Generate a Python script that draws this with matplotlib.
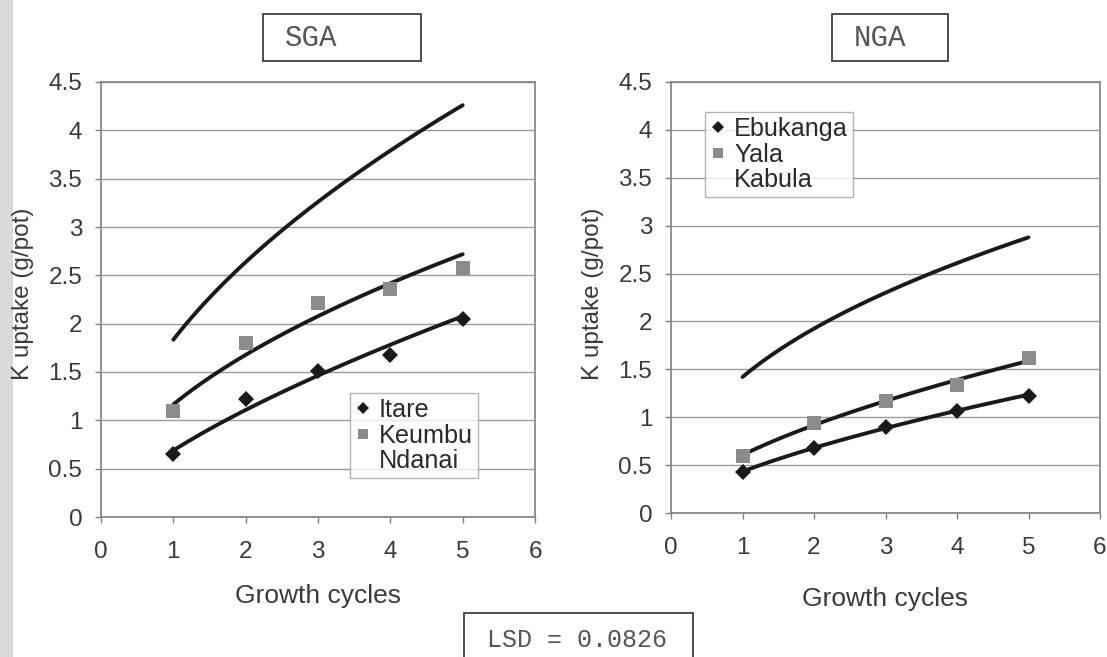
import numpy as np
import matplotlib
matplotlib.use("Agg")
import matplotlib.pyplot as plt
from matplotlib.patches import Rectangle

# ---- data ----
cycles = [1, 2, 3, 4, 5]
sga_names = ["Itare", "Keumbu", "Ndanai"]
sga_itare = [0.65, 1.22, 1.51, 1.68, 2.05]
sga_keumbu = [1.10, 1.80, 2.21, 2.36, 2.58]
sga_ndanai = [1.83, 2.65, 3.25, 3.80, 4.25]
nga_names = ["Ebukanga", "Yala", "Kabula"]
nga_ebukanga = [0.43, 0.68, 0.90, 1.07, 1.22]
nga_yala = [0.60, 0.94, 1.17, 1.34, 1.62]
nga_kabula = [1.41, 1.95, 2.30, 2.60, 2.87]
xticks = [0, 1, 2, 3, 4, 5, 6]
yticks = [0, 0.5, 1, 1.5, 2, 2.5, 3, 3.5, 4, 4.5]
ytick_labels = ["0", "0.5", "1", "1.5", "2", "2.5", "3", "3.5", "4", "4.5"]
lsd_text = "LSD = 0.0826"

W, H = 1107, 657
fig = plt.figure(figsize=(W / 100, H / 100), dpi=100)
fig.patch.set_facecolor("white")
plt.rcParams["font.family"] = ["Liberation Sans", "DejaVu Sans"]

# scan edge
fig.add_artist(Rectangle((0, 0), 13 / W, 1, transform=fig.transFigure,
                         facecolor="#d9d9d9", edgecolor="none", zorder=-5))


def power_fit(x, y):
    lx, ly = np.log(x), np.log(y)
    b, la = np.polyfit(lx, ly, 1)
    xs = np.linspace(min(x), max(x), 100)
    return xs, np.exp(la) * xs ** b


def make_axes(rect, series, names, leg_xy, ylab_xy, xlab_xy):
    ax = fig.add_axes(rect)
    ax.set_xlim(0, 6)
    ax.set_ylim(0, 4.5)
    ax.set_xticks(xticks)
    ax.set_yticks(yticks)
    ax.set_yticklabels(ytick_labels)
    ax.grid(axis="y", color="#9a9a9a", linewidth=1.0)
    ax.set_axisbelow(True)
    for s in ax.spines.values():
        s.set_color("#808080")
        s.set_linewidth(1.2)
    ax.tick_params(axis="both", colors="#808080", labelcolor="#3a3a3a",
                   labelsize=17.5, length=4.5, width=1.0)
    ax.tick_params(axis="x", pad=13)
    ax.tick_params(axis="y", pad=9)
    styles = [dict(marker="D", color="#1a1a1a", ms=8.5),
              dict(marker="s", color="#8c8c8c", ms=9.5),
              dict(marker="none", color="white", ms=0)]
    handles = []
    for ys, st, nm in zip(series, styles, names):
        xs, yf = power_fit(np.array(cycles, float), np.array(ys, float))
        ax.plot(xs, yf, color="#1a1a1a", lw=2.8, zorder=3, solid_capstyle="round")
        if st["ms"] > 0:
            ax.plot(cycles, ys, linestyle="none", marker=st["marker"],
                    color=st["color"], ms=st["ms"], zorder=4, markeredgewidth=0)
        h, = ax.plot([], [], linestyle="none", marker=st["marker"] if st["ms"] else "none",
                     color=st["color"], ms=st["ms"] * 0.75 if st["ms"] else 0,
                     markeredgewidth=0, label=nm)
        handles.append(h)
    ax.set_xlabel("Growth cycles", fontsize=19, color="#3a3a3a", va="center")
    ax.set_ylabel("K uptake (g/pot)", fontsize=17.5, color="#3a3a3a", va="center")
    ax.yaxis.set_label_coords(*ylab_xy)
    ax.xaxis.set_label_coords(*xlab_xy)
    leg = fig.legend(handles=handles, loc="upper left",
                     bbox_to_anchor=leg_xy, bbox_transform=fig.transFigure,
                     fontsize=18.2, frameon=True, fancybox=False, handlelength=0.6,
                     handletextpad=0.35, borderpad=0.2, labelspacing=0.06,
                     borderaxespad=0)
    leg.get_frame().set_edgecolor("#a0a0a0")
    leg.get_frame().set_linewidth(1.0)
    for t in leg.get_texts():
        t.set_color("#2a2a2a")
    return ax


def px_rect(x0, y0, x1, y1):
    return [x0 / W, 1 - y1 / H, (x1 - x0) / W, (y1 - y0) / H]


ax1 = make_axes(px_rect(101, 82, 535, 517), [sga_itare, sga_keumbu, sga_ndanai],
                sga_names, (350 / W, 1 - 393 / H),
                ((23 - 101) / 434, (517 - 293.5) / 435), (0.5, (517 - 596) / 435))
ax2 = make_axes(px_rect(671, 82, 1100, 513), [nga_ebukanga, nga_yala, nga_kabula],
                nga_names, (705 / W, 1 - 112 / H),
                ((593 - 671) / 429, (513 - 293.5) / 431), (0.5, (513 - 599) / 431))


def box(x0, y0, x1, y1, text, tx, fs):
    fig.add_artist(Rectangle((x0 / W, 1 - y1 / H), (x1 - x0) / W, (y1 - y0) / H,
                             transform=fig.transFigure, facecolor="white",
                             edgecolor="#404040", linewidth=1.3))
    fig.text(tx / W, 1 - ((y0 + y1) / 2) / H, text, family="Liberation Mono",
             fontsize=fs, color="#555555", ha="left", va="center")


box(263, 14, 421, 61, "SGA", 285, 21)
box(832, 14, 948, 61, "NGA", 854, 21)
fig.add_artist(Rectangle((464 / W, -0.05), (693 - 464) / W, 0.05 + 1 - 613 / H,
                         transform=fig.transFigure, facecolor="white",
                         edgecolor="#404040", linewidth=1.3))
fig.text(487 / W, 1 - 640 / H, lsd_text, family="Liberation Mono", fontsize=18,
         color="#555555", ha="left", va="center")

fig.savefig("out.png", dpi=100)
